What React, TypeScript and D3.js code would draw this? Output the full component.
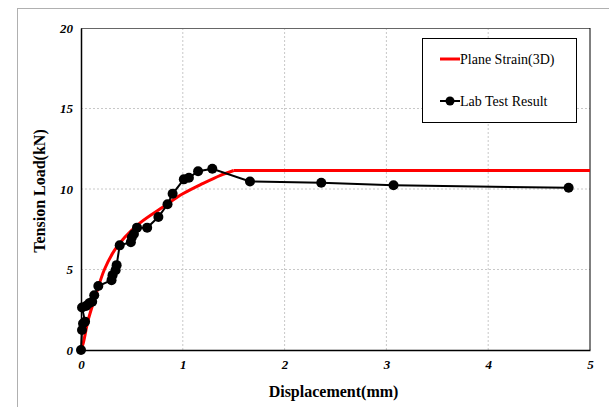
import { useEffect, useRef } from "react";
import * as d3 from "d3";

// lab test (displacement mm, load kN)
const labX = [0, 0.01, 0.02, 0.04, 0.01, 0.05, 0.08, 0.11, 0.13, 0.17, 0.3, 0.31, 0.34, 0.35, 0.38, 0.49, 0.5, 0.52, 0.55, 0.65, 0.76, 0.85, 0.9, 1.01, 1.06, 1.15, 1.29, 1.66, 2.36, 3.07, 4.79];
const labY = [0, 1.24, 1.65, 1.75, 2.64, 2.73, 2.9, 3.0, 3.4, 3.97, 4.34, 4.65, 4.96, 5.27, 6.5, 6.7, 7.0, 7.2, 7.6, 7.6, 8.26, 9.05, 9.7, 10.6, 10.7, 11.1, 11.26, 10.47, 10.39, 10.23, 10.08];

// plane strain (3D) model: curved part up to yield, then plateau
const modelX = [0, 0.023, 0.07, 0.14, 0.23, 0.33, 0.43, 0.58, 0.81, 1.0, 1.2, 1.37, 1.5];
const modelY = [0, 0.45, 1.85, 3.3, 5.0, 6.2, 7.0, 7.9, 8.9, 9.7, 10.35, 10.85, 11.15];
const plateauX = [1.5, 5];
const plateauY = [11.15, 11.15];

const xTicks = [0, 1, 2, 3, 4, 5];
const yTicks = [0, 5, 10, 15, 20];

const FONT = "Liberation Serif, Times New Roman, serif";

export default function App() {
  const ref = useRef<SVGSVGElement>(null);

  useEffect(() => {
    const svg = d3.select(ref.current);
    svg.selectAll("*").remove();

    const left = 81, right = 590, top = 28, bottom = 350;
    const x = d3.scaleLinear().domain([0, 5]).range([left, right]);
    const y = d3.scaleLinear().domain([0, 20]).range([bottom, top]);

    // outer frame
    svg.append("rect")
      .attr("x", 17.5).attr("y", 8.5).attr("width", 620).attr("height", 420)
      .attr("fill", "none").attr("stroke", "#b0b0b0");

    // grid
    const grid = svg.append("g");
    grid.selectAll("line.gx").data(xTicks.slice(1, -1)).enter().append("line")
      .attr("x1", d => x(d)).attr("x2", d => x(d)).attr("y1", top).attr("y2", bottom)
      .attr("stroke", "#c8c8c8").attr("stroke-dasharray", "2,2");
    grid.selectAll("line.gy").data(yTicks.slice(1, -1)).enter().append("line")
      .attr("x1", left).attr("x2", right).attr("y1", d => y(d)).attr("y2", d => y(d))
      .attr("stroke", "#c8c8c8").attr("stroke-dasharray", "2,2");

    // frame
    svg.append("line").attr("x1", left).attr("x2", right).attr("y1", top + 0.5).attr("y2", top + 0.5)
      .attr("stroke", "#666");
    svg.append("line").attr("x1", right).attr("x2", right).attr("y1", top).attr("y2", bottom)
      .attr("stroke", "#000");

    const xAxis = svg.append("g").attr("transform", `translate(0,${bottom})`)
      .call(d3.axisBottom(x).tickValues(xTicks).tickSize(0).tickPadding(10).tickFormat(d3.format("d")));
    xAxis.select(".domain").attr("stroke", "#000").attr("stroke-width", 1.5);
    const yAxis = svg.append("g").attr("transform", `translate(${left},0)`)
      .call(d3.axisLeft(y).tickValues(yTicks).tickSize(0).tickPadding(8).tickFormat(d3.format("d")));
    yAxis.select(".domain").attr("stroke", "#000").attr("stroke-width", 1.5);
    svg.selectAll("g").attr("font-family", null);
    svg.selectAll(".tick text")
      .style("font-family", FONT).style("font-size", "13px").style("font-weight", "bold")
      .style("font-style", "italic").attr("fill", "#000");

    // titles
    svg.append("text").attr("x", (left + right) / 2 - 2).attr("y", 397)
      .attr("text-anchor", "middle").style("font-family", FONT).style("font-size", "16px")
      .style("font-weight", "bold").text("Displacement(mm)");
    svg.append("text").attr("transform", `translate(45,${(top + bottom) / 2 + 2}) rotate(-90)`)
      .attr("text-anchor", "middle").style("font-family", FONT).style("font-size", "16px")
      .style("font-weight", "bold").text("Tension Load(kN)");

    // model line
    const model = modelX.map((d, i) => [d, modelY[i]] as [number, number]);
    const plateau = plateauX.map((d, i) => [d, plateauY[i]] as [number, number]);
    svg.append("path")
      .attr("d", d3.line().x(d => x(d[0])).y(d => y(d[1])).curve(d3.curveCatmullRom)(model))
      .attr("fill", "none").attr("stroke", "#ff0000").attr("stroke-width", 3);
    svg.append("path")
      .attr("d", d3.line().x(d => x(d[0])).y(d => y(d[1]))(plateau))
      .attr("fill", "none").attr("stroke", "#ff0000").attr("stroke-width", 3);

    // lab test
    const lab = labX.map((d, i) => [d, labY[i]] as [number, number]);
    svg.append("path")
      .attr("d", d3.line().x(d => x(d[0])).y(d => y(d[1]))(lab))
      .attr("fill", "none").attr("stroke", "#000").attr("stroke-width", 2);
    svg.selectAll("circle.pt").data(lab).enter().append("circle")
      .attr("cx", d => x(d[0])).attr("cy", d => y(d[1])).attr("r", 5).attr("fill", "#000");

    // legend
    const lg = svg.append("g");
    lg.append("rect").attr("x", 422.5).attr("y", 38.5).attr("width", 154).attr("height", 84)
      .attr("fill", "#fff").attr("stroke", "#000");
    lg.append("line").attr("x1", 440).attr("x2", 460).attr("y1", 59).attr("y2", 59)
      .attr("stroke", "#ff0000").attr("stroke-width", 3);
    lg.append("text").attr("x", 460).attr("y", 64).style("font-family", FONT).style("font-size", "14px")
      .text("Plane Strain(3D)");
    lg.append("line").attr("x1", 440).attr("x2", 460).attr("y1", 101).attr("y2", 101)
      .attr("stroke", "#000").attr("stroke-width", 2);
    lg.append("circle").attr("cx", 450).attr("cy", 101).attr("r", 4.5).attr("fill", "#000");
    lg.append("text").attr("x", 460).attr("y", 106).style("font-family", FONT).style("font-size", "14px")
      .text("Lab Test Result");
  }, []);

  return <svg ref={ref} width={609} height={407} style={{ position: "absolute", left: 0, top: 0 }} />;
}
